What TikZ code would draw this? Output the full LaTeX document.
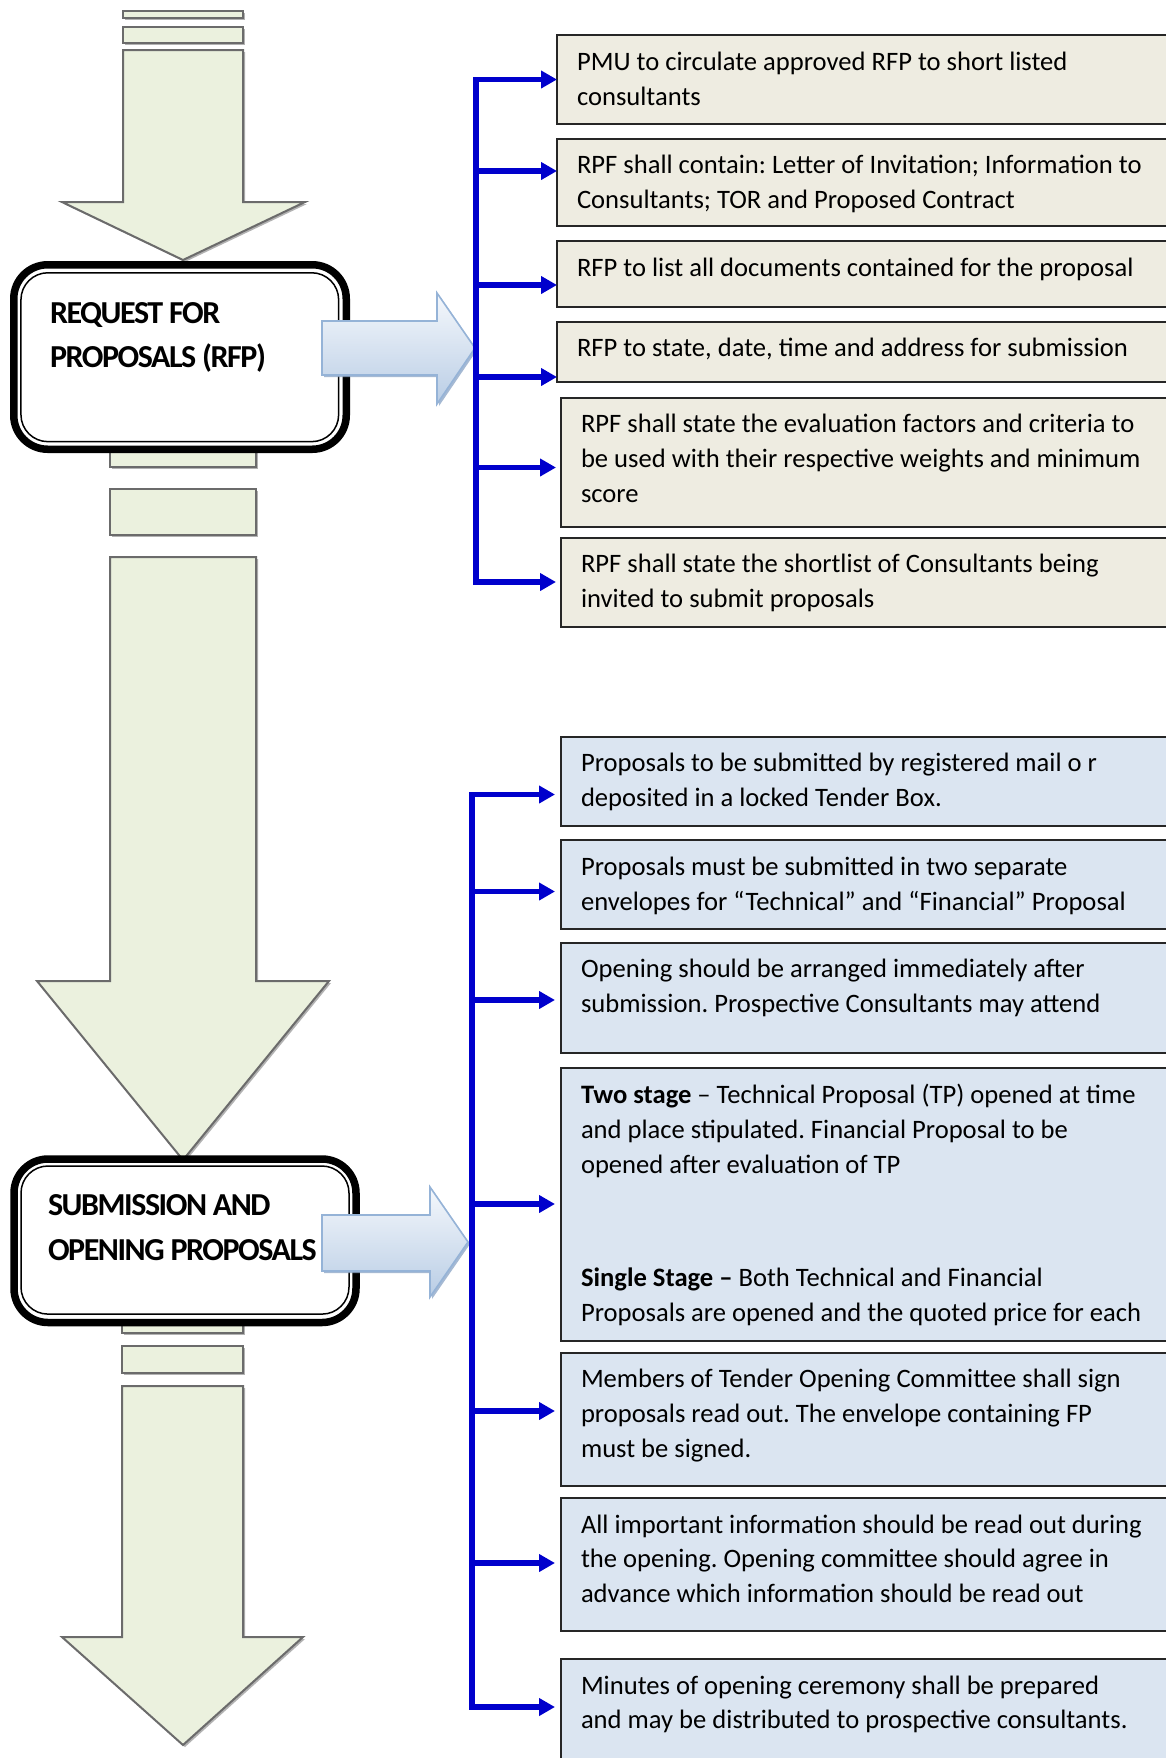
\documentclass[tikz,border=0pt]{standalone}
\usepackage{fontspec}
\setmainfont{Carlito}
\newfontfamily\headfont{Carlito}[LetterSpace=-4.5]
\usetikzlibrary{arrows.meta,shadows}
\frenchspacing

\definecolor{tanfill}{HTML}{EEECE1}
\definecolor{bluefill}{HTML}{DBE5F1}
\definecolor{greenfill}{HTML}{EBF1DE}
\definecolor{greenline}{HTML}{6B6B6B}
\definecolor{connblue}{HTML}{0000CC}
\definecolor{arrowtop}{HTML}{F5F8FC}
\definecolor{arrowbot}{HTML}{B9CDE5}
\definecolor{arrowline}{HTML}{95B3D7}
\definecolor{arrowshadow}{HTML}{8FA8C8}

% body text of the information boxes, first baseline on the node's base
\newcommand\celltext[1]{\parbox[t]{300pt}{\raggedright\frenchspacing\fontsize{13.3pt}{17.45pt}\selectfont #1}}
% stage titles
\newcommand\headtext[1]{\parbox[t]{300pt}{\raggedright\headfont\bfseries\fontsize{16pt}{22.4pt}\selectfont #1}}

\tikzset{
  infobox/.style={draw=black!85, line width=1pt, anchor=north west,
    minimum width=320pt, inner sep=0pt, outer sep=0pt},
  tanbox/.style={infobox, fill=tanfill},
  bluebox/.style={infobox, fill=bluefill},
  celltxt/.style={anchor=base west, inner sep=0pt, outer sep=0pt},
  feed/.style={draw=connblue, line width=2.6pt, -{Triangle[length=8pt,width=8.5pt]}},
  spine/.style={draw=connblue, line width=2.6pt, line cap=rect},
  flow/.style={fill=greenfill, draw=greenline, line width=1pt, line join=miter,
    drop shadow={shadow xshift=1pt, shadow yshift=-1pt, fill=black!30, opacity=1}},
  stagebox/.style={draw=black, line width=3.75pt, fill=white, rounded corners=17pt,
    anchor=north west, inner sep=0pt, outer sep=0pt},
  stageinner/.style={draw=black, line width=0.75pt, rounded corners=13.5pt},
  pointer/.style={top color=arrowtop, bottom color=arrowbot, draw=arrowline,
    line width=0.8pt, line join=miter,
    drop shadow={shadow xshift=1pt, shadow yshift=-1pt, fill=arrowshadow, opacity=0.8}},
}

\begin{document}
\begin{tikzpicture}[x=0.5pt, y=-0.5pt]
\useasboundingbox (0,0) rectangle (1166,1758);
\clip (0,0) rectangle (1166,1758);
\fill[white] (0,0) rectangle (1166,1758);

% ---------- main flow arrows ----------
\path[flow] (123,11) rectangle (243,18);
\path[flow] (123,27) rectangle (243,43);
\path[flow] (123,50) -- (243,50) -- (243,202) -- (305,202) -- (183,260)
  -- (62,202) -- (123,202) -- cycle;

\path[flow] (110,445) rectangle (256,467);
\path[flow] (110,489) rectangle (256,535);
\path[flow] (110,557) -- (256,557) -- (256,981) -- (329,981) -- (183,1160)
  -- (37,981) -- (110,981) -- cycle;

\path[flow] (122,1319) rectangle (243,1333);
\path[flow] (122,1346) rectangle (243,1373);
\path[flow] (122,1386) -- (243,1386) -- (243,1637) -- (303,1637) -- (183,1745)
  -- (62,1637) -- (122,1637) -- cycle;

% ---------- stage boxes ----------
\node[stagebox, minimum width=166.25pt, minimum height=92.25pt] (rfp) at (13.75,264.75) {};
\draw[stageinner] ([xshift=3.6pt,yshift=-4pt]rfp.north west) rectangle ([xshift=-3.8pt,yshift=3.8pt]rfp.south east);
\node[celltxt] (rfptxt) at (50,323) {\headtext{REQUEST FOR\\PROPOSALS (RFP)}};

\node[stagebox, minimum width=171pt, minimum height=81.75pt] (sub) at (14,1159) {};
\draw[stageinner] ([xshift=3.5pt,yshift=-3.5pt]sub.north west) rectangle ([xshift=-3.5pt,yshift=4.2pt]sub.south east);
\node[celltxt] (subtxt) at (48,1215.5) {\headtext{SUBMISSION AND\\OPENING PROPOSALS}};

% ---------- block arrows to the detail lists ----------
\path[pointer] (322,321) -- (437,321) -- (437,293) -- (475,348) -- (437,404)
  -- (437,375) -- (322,375) -- cycle;
\path[pointer] (322,1215) -- (430,1215) -- (430,1187) -- (468,1242) -- (430,1297)
  -- (430,1271) -- (322,1271) -- cycle;

% ---------- RFP detail boxes ----------
\node[tanbox, minimum height=44.5pt] (r1) at (557,35) {};
\node[tanbox, minimum height=43.5pt] (r2) at (557,139) {};
\node[tanbox, minimum height=33pt]   (r3) at (557,241) {};
\node[tanbox, minimum height=30pt]   (r4) at (557,322) {};
\node[tanbox, minimum height=64.5pt] (r5) at (561,398) {};
\node[tanbox, minimum height=44.5pt] (r6) at (561,538) {};

\node[celltxt] (r1t) at (577,70.7) {\celltext{PMU to circulate approved RFP to short listed\\consultants}};
\node[celltxt] (r2t) at (577,173.3) {\celltext{RPF shall contain: Letter of Invitation; Information to\\Consultants; TOR and Proposed Contract}};
\node[celltxt] (r3t) at (577,276) {\celltext{RFP to list all documents contained for the proposal}};
\node[celltxt] (r4t) at (577,356.7) {\celltext{RFP to state, date, time and address for submission}};
\node[celltxt] (r5t) at (581,432.3) {\celltext{RPF shall state the evaluation factors and criteria to\\be used with their respective weights and minimum\\score}};
\node[celltxt] (r6t) at (581,572.7) {\celltext{RPF shall state the shortlist of Consultants being\\invited to submit proposals}};

% ---------- submission detail boxes ----------
\node[bluebox, minimum height=44.5pt]  (b1) at (561,737) {};
\node[bluebox, minimum height=44.5pt]  (b2) at (561,840) {};
\node[bluebox, minimum height=55pt]    (b3) at (561,943) {};
\node[bluebox, minimum height=136.5pt] (b4) at (561,1068) {};
\node[bluebox, minimum height=66.5pt]  (b5) at (561,1353) {};
\node[bluebox, minimum height=66.5pt]  (b6) at (561,1498) {};
\node[bluebox, minimum height=75pt]    (b7) at (561,1659) {};

\node[celltxt] (b1t) at (581,771.7) {\celltext{Proposals to be submitted by registered mail o r\\deposited in a locked Tender Box.}};
\node[celltxt] (b2t) at (581,875.7) {\celltext{Proposals must be submitted in two separate\\envelopes for “Technical” and “Financial” Proposal}};
\node[celltxt] (b3t) at (581,977.7) {\celltext{Opening should be arranged immediately after\\submission. Prospective Consultants may attend}};
\node[celltxt] (b4t) at (581,1103.3) {\celltext{\textbf{Two stage} – Technical Proposal (TP) opened at time\\and place stipulated. Financial Proposal to be\\opened after evaluation of TP\\[39.2pt]\textbf{Single Stage –} Both Technical and Financial\\Proposals are opened and the quoted price for each}};
\node[celltxt] (b5t) at (581,1387.5) {\celltext{Members of Tender Opening Committee shall sign\\proposals read out. The envelope containing FP\\must be signed.}};
\node[celltxt] (b6t) at (581,1533) {\celltext{All important information should be read out during\\the opening. Opening committee should agree in\\advance which information should be read out}};
\node[celltxt] (b7t) at (581,1694) {\celltext{Minutes of opening ceremony shall be prepared\\and may be distributed to prospective consultants.}};

% ---------- bracket connectors ----------
\coordinate (s1) at (476,79.5);
\coordinate (s2) at (476,171);
\coordinate (s3) at (476,285);
\coordinate (s4) at (476,377);
\coordinate (s5) at (476,467.5);
\coordinate (s6) at (476,582);
\draw[spine] (s1) -- (s6);
\draw[feed] (s1) -- (s1 -| r1.west);
\draw[feed] (s2) -- (s2 -| r2.west);
\draw[feed] (s3) -- (s3 -| r3.west);
\draw[feed] (s4) -- (s4 -| r4.west);
\draw[feed] (s5) -- ([xshift=-2.5pt]s5 -| r5.west);
\draw[feed] (s6) -- ([xshift=-2.5pt]s6 -| r6.west);

\coordinate (t1) at (472,794.5);
\coordinate (t2) at (472,891.5);
\coordinate (t3) at (472,1000);
\coordinate (t4) at (472,1204);
\coordinate (t5) at (472,1411);
\coordinate (t6) at (472,1563);
\coordinate (t7) at (472,1707);
\draw[spine] (t1) -- (t7);
\draw[feed] (t1) -- ([xshift=-3pt]t1 -| b1.west);
\draw[feed] (t2) -- ([xshift=-3pt]t2 -| b2.west);
\draw[feed] (t3) -- ([xshift=-3pt]t3 -| b3.west);
\draw[feed] (t4) -- ([xshift=-3pt]t4 -| b4.west);
\draw[feed] (t5) -- ([xshift=-3pt]t5 -| b5.west);
\draw[feed] (t6) -- ([xshift=-3pt]t6 -| b6.west);
\draw[feed] (t7) -- ([xshift=-3pt]t7 -| b7.west);
\end{tikzpicture}
\end{document}
